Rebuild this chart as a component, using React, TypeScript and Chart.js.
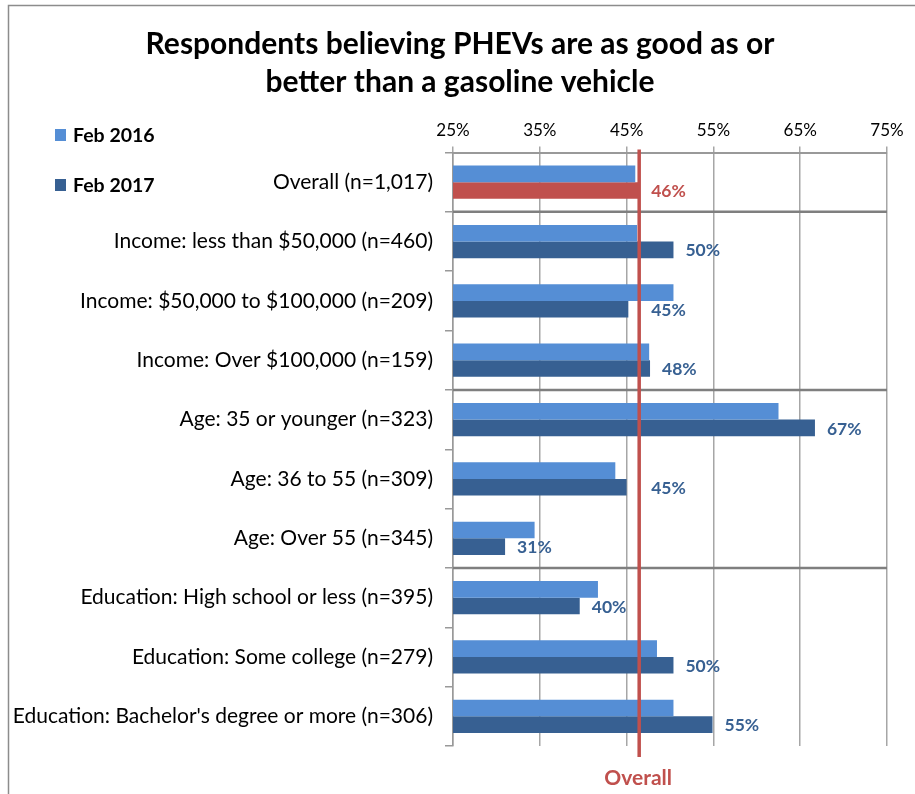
import React, { useEffect, useRef } from "react";
import { Chart, registerables } from "chart.js";

Chart.register(...registerables);

const titleLines = [
  "Respondents believing PHEVs are as good as or",
  "better than a gasoline vehicle",
];
const categories = [
  "Overall (n=1,017)",
  "Income: less than $50,000 (n=460)",
  "Income: $50,000 to $100,000 (n=209)",
  "Income: Over $100,000 (n=159)",
  "Age: 35 or younger (n=323)",
  "Age: 36 to 55 (n=309)",
  "Age: Over 55 (n=345)",
  "Education: High school or less (n=395)",
  "Education: Some college (n=279)",
  "Education: Bachelor's degree or more (n=306)",
];
const seriesNames = ["Feb 2016", "Feb 2017"];
const feb2016 = [46.0, 46.2, 50.4, 47.6, 62.5, 43.7, 34.4, 41.7, 48.5, 50.4];
const feb2017 = [46.4, 50.4, 45.2, 47.7, 66.7, 45.0, 31.0, 39.6, 50.4, 54.9];
const overallValue = 46.45;
const overallLabel = "Overall";
const groupStarts = [1, 4, 7];
const xMin = 25;
const xMax = 75;
const xStep = 10;

const LIGHT = "#558ed5";
const DARK = "#376092";
const RED = "#c0504d";
const FONT = "Lato";

const decorPlugin = {
  id: "decor",
  afterDatasetsDraw(chart: any) {
    const { ctx, chartArea, scales } = chart;
    const x = scales.x;
    const y = scales.y;
    ctx.save();
    // group separators
    ctx.strokeStyle = "#7f7f7f";
    ctx.lineWidth = 2.5;
    groupStarts.forEach((i) => {
      const py = (y.getPixelForValue(i - 1) + y.getPixelForValue(i)) / 2;
      ctx.beginPath();
      ctx.moveTo(chartArea.left, py);
      ctx.lineTo(chartArea.right, py);
      ctx.stroke();
    });
    // overall line
    const lx = x.getPixelForValue(overallValue);
    ctx.strokeStyle = RED;
    ctx.lineWidth = 3.5;
    ctx.beginPath();
    ctx.moveTo(lx, chartArea.top - 3);
    ctx.lineTo(lx, chartArea.bottom + 11);
    ctx.stroke();
    // data labels for Feb 2017
    const meta = chart.getDatasetMeta(1);
    ctx.font = `bold 17.5px ${FONT}`;
    ctx.textAlign = "left";
    ctx.textBaseline = "middle";
    feb2017.forEach((v, i) => {
      const el = meta.data[i];
      const text = `${Math.round(v)}%`;
      const w = ctx.measureText(text).width;
      let px = x.getPixelForValue(v) + 12;
      if (px - 14 < lx && px + w > lx - 3) px = Math.max(px, lx + 12);
      ctx.fillStyle = i === 0 ? RED : DARK;
      ctx.fillText(text, px, el.y + 1);
    });
    ctx.restore();
  },
  afterDraw(chart: any) {
    const { ctx, scales } = chart;
    ctx.save();
    // border
    ctx.strokeStyle = "#8c8c8c";
    ctx.lineWidth = 1.5;
    ctx.beginPath();
    ctx.moveTo(8.5, 800);
    ctx.lineTo(8.5, 5.5);
    ctx.lineTo(920, 5.5);
    ctx.stroke();
    // title
    ctx.fillStyle = "#000";
    ctx.font = `bold 30px ${FONT}`;
    ctx.textAlign = "center";
    ctx.textBaseline = "middle";
    ctx.fillText(titleLines[0], 460, 44);
    ctx.fillText(titleLines[1], 460, 82);
    // legend
    ctx.font = `bold 19.5px ${FONT}`;
    ctx.textAlign = "left";
    [LIGHT, DARK].forEach((c, i) => {
      const cy = 135 + i * 50;
      ctx.fillStyle = c;
      ctx.fillRect(55, cy - 6, 11, 12);
      ctx.fillStyle = "#000";
      ctx.fillText(seriesNames[i], 73, cy + 1);
    });
    // overall label
    const lx = scales.x.getPixelForValue(overallValue);
    ctx.fillStyle = RED;
    ctx.font = `bold 21px ${FONT}`;
    ctx.textAlign = "center";
    ctx.fillText(overallLabel, lx - 1, 778);
    ctx.restore();
  },
};

export default function App() {
  const ref = useRef<HTMLCanvasElement>(null);
  useEffect(() => {
    Chart.defaults.font.family = FONT;
    Chart.defaults.color = "#000";
    const chart = new Chart(ref.current as HTMLCanvasElement, {
      type: "bar",
      data: {
        labels: categories,
        datasets: [
          {
            label: seriesNames[0],
            data: feb2016,
            backgroundColor: LIGHT,
            categoryPercentage: 0.56,
            barPercentage: 1,
          },
          {
            label: seriesNames[1],
            data: feb2017,
            backgroundColor: feb2017.map((_, i) => (i === 0 ? RED : DARK)),
            categoryPercentage: 0.56,
            barPercentage: 1,
          },
        ],
      },
      options: {
        indexAxis: "y",
        animation: false,
        responsive: false,
        devicePixelRatio: 1,
        layout: { padding: { top: 0, left: 0, right: 28, bottom: 48 } },
        plugins: {
          legend: { display: false },
          title: { display: false },
          tooltip: { enabled: false },
        },
        scales: {
          x: {
            position: "top",
            min: xMin,
            max: xMax,
            afterFit: (s: any) => {
              s.height = 152.5;
            },
            ticks: {
              stepSize: xStep,
              padding: 6,
              font: { size: 17 },
              color: "#000",
              callback: (v: any) => `${v}%`,
            },
            grid: {
              color: "#a6a6a6",
              lineWidth: 1.5,
              tickLength: 6,
            },
            border: { display: true, color: "#999", width: 2 },
          },
          y: {
            afterFit: (s: any) => {
              s.width = 453;
            },
            ticks: {
              padding: 12,
              font: { size: 21 },
              color: "#000",
              autoSkip: false,
            },
            grid: {
              drawOnChartArea: false,
              color: "#999",
              lineWidth: 1.5,
              tickLength: 8,
              offset: true,
            },
            border: { display: true, color: "#999", width: 1.5 },
          },
        },
      },
      plugins: [decorPlugin],
    } as any);
    return () => chart.destroy();
  }, []);
  return (
    <div style={{ position: "absolute", left: 0, top: 0, width: 915, height: 794 }}>
      <canvas ref={ref} width={915} height={794} style={{ display: "block" }} />
    </div>
  );
}
